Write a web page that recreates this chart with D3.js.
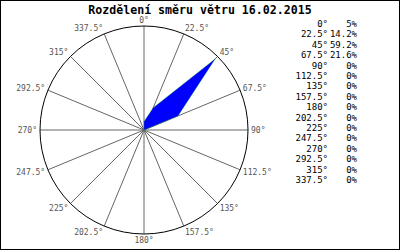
<!DOCTYPE html>
<html>
<head>
<meta charset="utf-8">
<script src="https://cdn.jsdelivr.net/npm/d3@7"></script>
<style>
  body { margin: 0; background: #fff; }
  svg { display: block; }
</style>
</head>
<body>
<svg id="chart" width="400" height="250"></svg>
<script>
"use strict";

const title = 'Rozdělení směru větru 16.02.2015';
const directions = [0, 22.5, 45, 67.5, 90, 112.5, 135, 157.5, 180, 202.5, 225, 247.5, 270, 292.5, 315, 337.5];
const percents   = [5, 14.2, 59.2, 21.6, 0, 0, 0, 0, 0, 0, 0, 0, 0, 0, 0, 0];

const width = 400, height = 250;
const cx = 144, cy = 130, R = 104;
const mono = "'DejaVu Sans Mono', monospace";

const svg = d3.select('#chart');

// frame
svg.append('rect')
  .attr('x', 0.5).attr('y', 0.5)
  .attr('width', width - 1).attr('height', height - 1)
  .attr('fill', '#fff').attr('stroke', '#000');

svg.append('text')
  .attr('x', 200).attr('y', 14)
  .attr('text-anchor', 'middle')
  .attr('font-family', mono).attr('font-weight', 'bold').attr('font-size', '11.6px')
  .attr('fill', '#000')
  .text(title);

const rad = d => d * Math.PI / 180;
const r = d3.scaleLinear().domain([0, d3.max(percents)]).range([0, R * 0.97]);

const g = svg.append('g').attr('transform', 'translate(' + cx + ',' + cy + ')');

// spokes
g.append('g').selectAll('line').data(directions).enter().append('line')
  .attr('x1', 0).attr('y1', 0)
  .attr('x2', d => R * Math.sin(rad(d)))
  .attr('y2', d => -R * Math.cos(rad(d)))
  .attr('stroke', '#666').attr('stroke-width', 1);

// outer circle
g.append('circle').attr('r', R)
  .attr('fill', 'none').attr('stroke', '#000').attr('stroke-width', 1);

// data polygon
const line = d3.lineRadial()
  .angle((d, i) => rad(directions[i]))
  .radius(d => r(d))
  .curve(d3.curveLinearClosed);

g.append('path')
  .attr('d', line(percents))
  .attr('fill', '#0000ff')
  .attr('stroke', '#00cc00').attr('stroke-width', 0.3);

// angle labels
g.append('g').selectAll('text').data(directions).enter().append('text')
  .attr('x', d => (R + 3) * Math.sin(rad(d)))
  .attr('y', d => -(R + 3) * Math.cos(rad(d)))
  .attr('dy', d => (0.35 - 0.4 * Math.cos(rad(d))) + 'em')
  .attr('text-anchor', d => {
    const s = Math.sin(rad(d));
    return s > 0.1 ? 'start' : s < -0.1 ? 'end' : 'middle';
  })
  .attr('font-family', mono).attr('font-size', '8px')
  .attr('fill', '#555')
  .text(d => d + '°');

// value table on the right
const rowY = d3.scaleLinear().domain([0, directions.length - 1]).range([27, 183]);
const table = svg.append('g')
  .attr('font-family', mono).attr('font-size', '9px').attr('fill', '#000');

table.selectAll('text.dir').data(directions).enter().append('text')
  .attr('class', 'dir')
  .attr('x', 328).attr('y', (d, i) => rowY(i))
  .attr('text-anchor', 'end')
  .text(d => d + '°');

table.selectAll('text.pct').data(percents).enter().append('text')
  .attr('class', 'pct')
  .attr('x', 357).attr('y', (d, i) => rowY(i))
  .attr('text-anchor', 'end')
  .text(d => d + '%');
</script>
</body>
</html>
